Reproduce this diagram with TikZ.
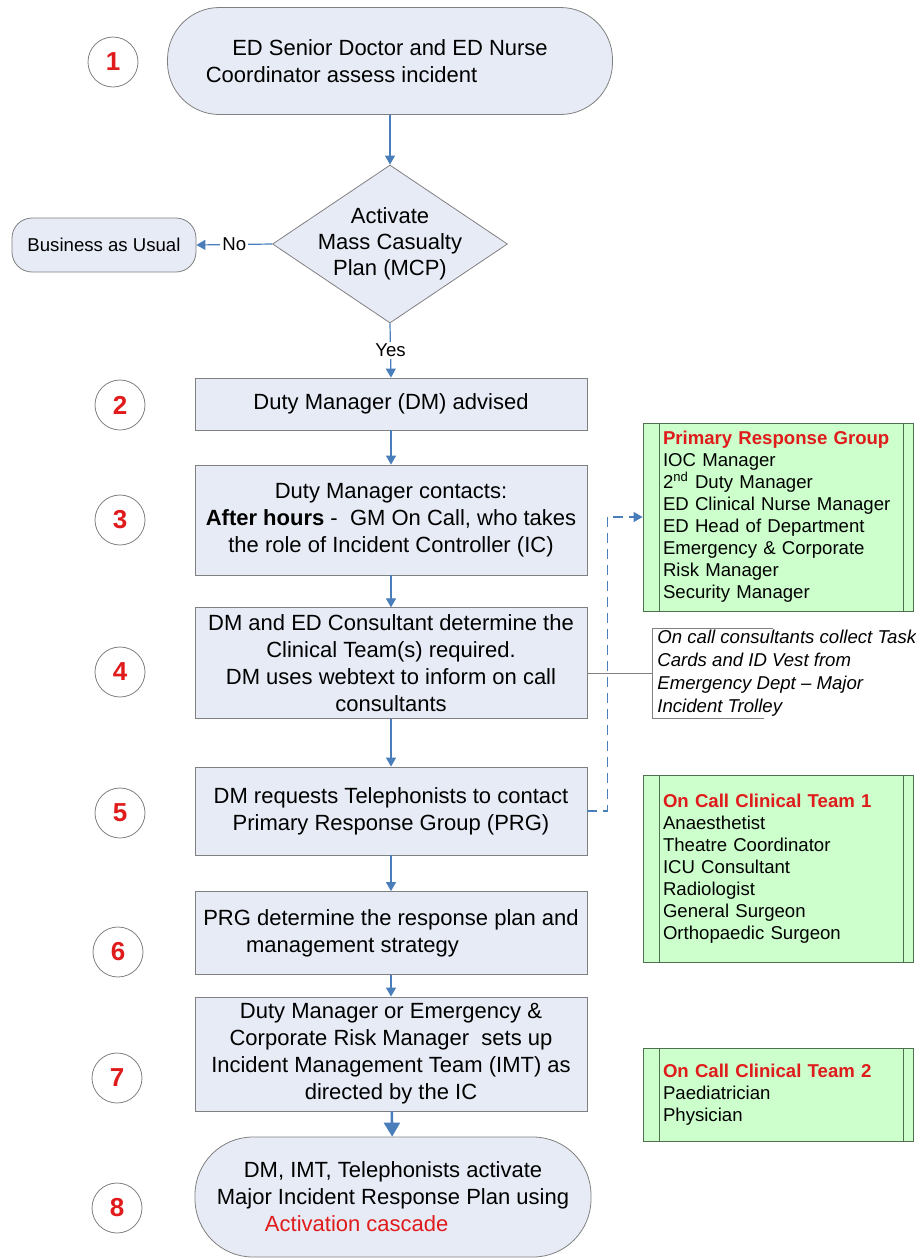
\documentclass[tikz,border=0pt]{standalone}
\usepackage{fontspec}
\setmainfont{Liberation Sans}
\usetikzlibrary{shapes.geometric,arrows.meta}
\definecolor{boxfill}{HTML}{E6EBF5}
\definecolor{boxline}{HTML}{808080}
\definecolor{linkblue}{HTML}{4A7EBB}
\definecolor{teamfill}{HTML}{CCFFCC}
\definecolor{teamline}{HTML}{4F6F4F}
\definecolor{stepred}{HTML}{E01B1B}
\tikzset{
  stepbox/.style={rectangle, draw=boxline, fill=boxfill, minimum width=196pt,
    inner xsep=2pt, align=center, font=\fontsize{11}{13.5}\selectfont},
  terminal/.style={stepbox, rounded corners=26pt},
  decision/.style={diamond, draw=boxline, fill=boxfill, minimum width=117.5pt,
    minimum height=79pt, inner sep=0pt},
  stepno/.style={circle, draw=boxline, fill=white, minimum size=25pt, inner sep=0pt,
    text=stepred, font=\fontsize{13}{15}\selectfont\bfseries},
  teambox/.style={rectangle, draw=teamline, fill=teamfill, text width=115pt,
    inner xsep=10pt, align=left, font=\fontsize{9.3}{11}\selectfont},
  note/.style={align=left, inner xsep=2.5pt, inner ysep=1pt,
    font=\fontsize{9.3}{11.4}\selectfont\itshape},
  small/.style={font=\fontsize{9.3}{11}\selectfont},
  flow/.style={draw=linkblue, line width=0.6pt, -{Triangle[width=5pt,length=4.5pt]}},
  heavyflow/.style={draw=linkblue, line width=1.3pt, -{Triangle[width=8pt,length=7pt]}}
}
\begin{document}
\begin{tikzpicture}[x=0.5pt,y=-0.5pt]
  \useasboundingbox (0,0) rectangle (916,1259);
  \node[terminal, minimum height=53.5pt, minimum width=222.5pt] (assess) at (390,61)
    {ED Senior Doctor and ED Nurse\\Coordinator assess incident\makebox[4.4em]{}};
  \node[decision, label={[align=center, font=\fontsize{11}{13}\selectfont]center:Activate\\Mass Casualty\\Plan (MCP)}] (mcp) at (390,244) {};
  \node[stepbox, small, rounded corners=10pt, minimum width=92pt, minimum height=27pt] (usual) at (104,245) {Business as Usual};
  \node[stepbox, minimum height=26pt] (advised) at (391,404) {Duty Manager (DM) advised};
  \node[stepbox, minimum height=55pt] (contacts) at (391,520)
    {Duty Manager contacts:\\\textbf{After hours} -\ \ GM On Call, who takes\\the role of Incident Controller (IC)};
  \node[stepbox, minimum height=53.5pt] (consult) at (391,663)
    {DM and ED Consultant determine the\\Clinical Team(s) required.\\DM uses webtext to inform on call\\consultants};
  \node[stepbox, minimum height=44pt] (telep) at (391,811)
    {DM requests Telephonists to contact\\Primary Response Group (PRG)};
  \node[stepbox, minimum height=41.5pt] (strategy) at (391,933)
    {PRG determine the response plan and\\management strategy\makebox[3.5em]{}};
  \node[stepbox, minimum height=52pt] (imt) at (391,1054)
    {Duty Manager or Emergency \&\\Corporate Risk Manager\ \ sets up\\Incident Management Team (IMT) as\\directed by the IC};
  \node[terminal, rounded corners=29pt, minimum width=198pt, minimum height=60pt] (cascade) at (393,1197)
    {DM, IMT, Telephonists activate\\Major Incident Response Plan using\\\textcolor{stepred}{Activation cascade}\makebox[3.3em]{}};
  \node[stepno] (n1) at (113,62) {1};
  \node[stepno] (n2) at (120,405) {2};
  \node[stepno] (n3) at (120,520) {3};
  \node[stepno] (n4) at (120,672) {4};
  \node[stepno] (n5) at (120,813) {5};
  \node[stepno] (n6) at (118,952) {6};
  \node[stepno] (n7) at (117,1078) {7};
  \node[stepno] (n8) at (117,1208) {8};
  \node[teambox, minimum height=94pt] (prg) at (778,517)
    {\textcolor{stepred}{\textbf{Primary Response Group}}\\IOC Manager\\2\textsuperscript{nd} Duty Manager\\ED Clinical Nurse Manager\\ED Head of Department\\Emergency \& Corporate\\Risk Manager\\Security Manager};
  \node[teambox, minimum height=93.5pt] (team1) at (778,868.5)
    {\textcolor{stepred}{\textbf{On Call Clinical Team 1}}\\Anaesthetist\\Theatre Coordinator\\ICU Consultant\\Radiologist\\General Surgeon\\Orthopaedic Surgeon};
  \node[teambox, minimum height=46.5pt] (team2) at (778,1094.5)
    {\textcolor{stepred}{\textbf{On Call Clinical Team 2}}\\Paediatrician\\Physician};
  \node[note, anchor=north west] (trolley) at (652,628)
    {On call consultants collect Task\\Cards and ID Vest from\\Emergency Dept – Major\\Incident Trolley};
  \draw[teamline] ([xshift=8.5pt]prg.north west) -- ([xshift=8.5pt]prg.south west);
  \draw[teamline] ([xshift=-5pt]prg.north east) -- ([xshift=-5pt]prg.south east);
  \draw[teamline] ([xshift=8.5pt]team1.north west) -- ([xshift=8.5pt]team1.south west);
  \draw[teamline] ([xshift=-5pt]team1.north east) -- ([xshift=-5pt]team1.south east);
  \draw[teamline] ([xshift=8.5pt]team2.north west) -- ([xshift=8.5pt]team2.south west);
  \draw[teamline] ([xshift=-5pt]team2.north east) -- ([xshift=-5pt]team2.south east);
  \draw[boxline] ([xshift=60.5pt]trolley.north west) -- (trolley.north west)
    -- (trolley.south west) -- ([xshift=56pt]trolley.south west);
  \begin{scope}[flow]
    \draw (assess) to (mcp);
    \draw (mcp.west) to node[small, fill=white, inner sep=1pt] {No} (usual.east);
    \draw (mcp.south) to node[small, fill=white, inner sep=1pt] {Yes} (advised.north);
    \draw (advised) to (contacts);
    \draw (contacts) to (consult);
    \draw (consult) to (telep);
    \draw (telep) to (strategy);
    \draw (strategy) to (imt);
  \end{scope}
  \draw[heavyflow] (imt) to (cascade);
  \draw[flow, dash pattern=on 5pt off 3pt] (telep.east) -- ++(20,0) |- (prg.west);
  \draw[boxline] (consult.east |- trolley.west) -- (trolley.west);
\end{tikzpicture}
\end{document}
